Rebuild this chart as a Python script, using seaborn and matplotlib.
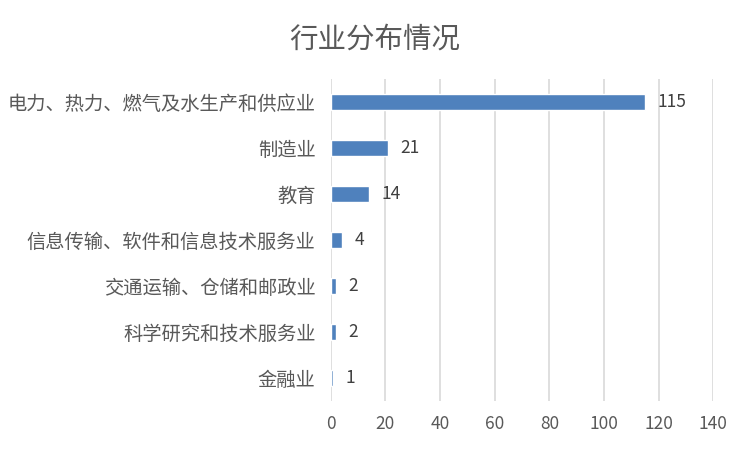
import matplotlib
matplotlib.use("Agg")
import matplotlib.pyplot as plt
import seaborn as sns
import pandas as pd

industries = ["电力、热力、燃气及水生产和供应业", "制造业", "教育",
              "信息传输、软件和信息技术服务业", "交通运输、仓储和邮政业",
              "科学研究和技术服务业", "金融业"]
counts = [115, 21, 14, 4, 2, 2, 1]
x_ticks = [0, 20, 40, 60, 80, 100, 120, 140]

df = pd.DataFrame({"industry": industries, "count": counts})

sns.set_theme(style="white")
plt.rcParams['font.family'] = ['Noto Sans CJK SC', 'DejaVu Sans']

fig = plt.figure(figsize=(7.5, 4.5), dpi=100)
ax = fig.add_axes([0.441, 0.109, 0.51, 0.715])

sns.barplot(data=df, x="count", y="industry", color="#4F81BD", width=0.36,
            saturation=1, ax=ax, zorder=3)

ax.set_xlim(0, 140)
ax.set_xticks(x_ticks)
ax.grid(axis="x", color="#D9D9D9", linewidth=1.2, zorder=0)
for s in ax.spines.values():
    s.set_visible(False)
ax.tick_params(axis="both", length=0, colors="#595959")
ax.tick_params(axis="x", labelsize=12.5, pad=10)
ax.tick_params(axis="y", labelsize=13.9, pad=11)
ax.set_xlabel("")
ax.set_ylabel("")

for c in ax.containers:
    ax.bar_label(c, padding=9, fontsize=12.5, color="#404040")

fig.suptitle("行业分布情况", y=0.945, fontsize=20.5, color="#595959")

fig.savefig("out.png", dpi=100)
